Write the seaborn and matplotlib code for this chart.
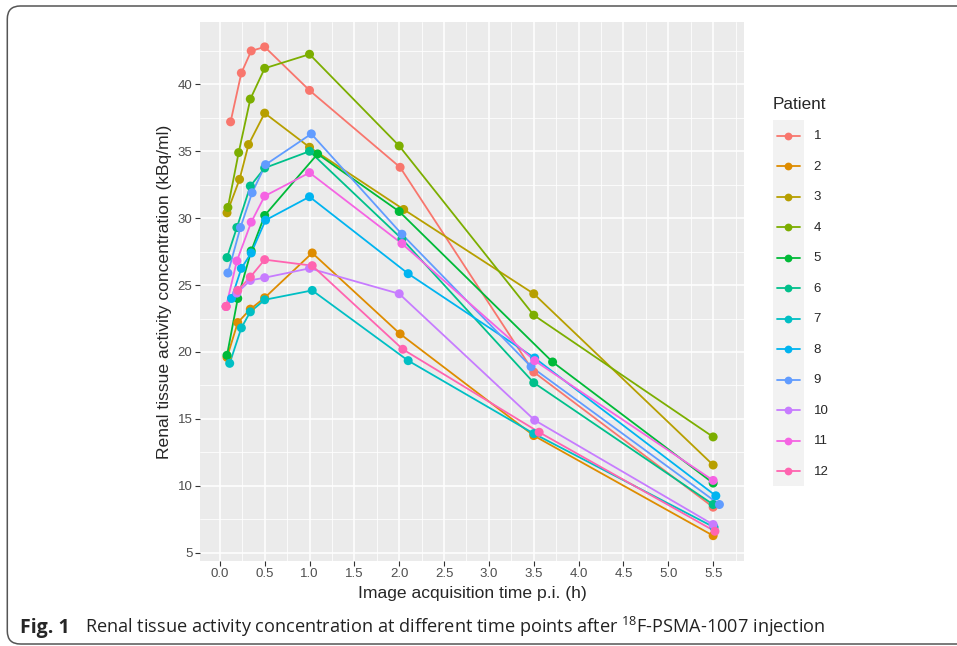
import numpy as np
import pandas as pd
import seaborn as sns
import matplotlib.pyplot as plt
from matplotlib.lines import Line2D
from matplotlib.patches import Rectangle, FancyBboxPatch
from matplotlib.legend_handler import HandlerBase

# data (time in h, concentration in kBq/ml)
patients = [str(i) for i in range(1, 13)]
palette = ["#F8766D", "#DE8C00", "#B79F00", "#7CAE00", "#00BA38", "#00C08B",
           "#00BFC4", "#00B4F0", "#619CFF", "#C77CFF", "#F564E3", "#FF64B0"]

time_1 = [0.12, 0.24, 0.35, 0.50, 1.00, 2.01, 3.50, 5.50]
conc_1 = [37.2, 40.85, 42.5, 42.8, 39.55, 33.8, 18.5, 8.4]
time_2 = [0.08, 0.20, 0.34, 0.50, 1.03, 2.01, 3.50, 5.50]
conc_2 = [19.6, 22.2, 23.2, 24.05, 27.4, 21.35, 13.75, 6.27]
time_3 = [0.08, 0.22, 0.32, 0.50, 1.00, 2.05, 3.50, 5.50]
conc_3 = [30.4, 32.9, 35.5, 37.85, 35.3, 30.65, 24.35, 11.55]
time_4 = [0.09, 0.21, 0.34, 0.50, 1.00, 2.00, 3.50, 5.50]
conc_4 = [30.8, 34.9, 38.9, 41.2, 42.25, 35.4, 22.75, 13.65]
time_5 = [0.08, 0.20, 0.35, 0.50, 1.09, 2.00, 3.71, 5.50]
conc_5 = [19.75, 24.0, 27.55, 30.2, 34.8, 30.5, 19.25, 10.2]
time_6 = [0.08, 0.19, 0.34, 0.50, 1.00, 2.03, 3.50, 5.50]
conc_6 = [27.05, 29.3, 32.4, 33.75, 35.0, 28.45, 17.7, 8.6]
time_7 = [0.11, 0.24, 0.34, 0.50, 1.03, 2.10, 3.50, 5.51]
conc_7 = [19.15, 21.8, 23.0, 23.9, 24.6, 19.35, 13.9, 6.9]
time_8 = [0.13, 0.24, 0.35, 0.51, 1.00, 2.10, 3.51, 5.53]
conc_8 = [24.0, 26.25, 27.4, 29.85, 31.6, 25.85, 19.55, 9.25]
time_9 = [0.09, 0.23, 0.36, 0.51, 1.02, 2.03, 3.47, 5.57]
conc_9 = [25.9, 29.3, 31.9, 34.0, 36.3, 28.8, 18.9, 8.6]
time_10 = [0.07, 0.19, 0.34, 0.50, 1.00, 2.00, 3.51, 5.50]
conc_10 = [23.4, 24.4, 25.35, 25.55, 26.25, 24.35, 14.9, 7.1]
time_11 = [0.07, 0.19, 0.35, 0.50, 1.00, 2.03, 3.51, 5.50]
conc_11 = [23.4, 26.8, 29.7, 31.65, 33.4, 28.1, 19.35, 10.4]
time_12 = [0.07, 0.20, 0.34, 0.50, 1.03, 2.04, 3.56, 5.52]
conc_12 = [23.4, 24.6, 25.6, 26.9, 26.45, 20.2, 14.0, 6.6]

x_ticks = [0.0, 0.5, 1.0, 1.5, 2.0, 2.5, 3.0, 3.5, 4.0, 4.5, 5.0, 5.5]
y_ticks = [5, 10, 15, 20, 25, 30, 35, 40]

times = [time_1, time_2, time_3, time_4, time_5, time_6,
         time_7, time_8, time_9, time_10, time_11, time_12]
concs = [conc_1, conc_2, conc_3, conc_4, conc_5, conc_6,
         conc_7, conc_8, conc_9, conc_10, conc_11, conc_12]
df = pd.concat([pd.DataFrame({"time": t, "conc": c, "Patient": p})
                for p, t, c in zip(patients, times, concs)], ignore_index=True)

# ggplot-ish grey theme
sns.set_style("darkgrid", {"axes.facecolor": "#EBEBEB", "grid.color": "white"})
plt.rcParams["font.family"] = ["Liberation Sans", "DejaVu Sans"]
plt.rcParams["mathtext.fontset"] = "custom"
plt.rcParams["mathtext.rm"] = "Open Sans"

fig = plt.figure(figsize=(9.57, 6.46), dpi=100)
W, H = 957, 646
ax = fig.add_axes([200 / W, 1 - 560.7 / H, 544 / W, 538.7 / H])

pal = dict(zip(patients, palette))
sns.lineplot(data=df, x="time", y="conc", hue="Patient", hue_order=patients,
             palette=pal, estimator=None, lw=1.3, legend=False, ax=ax)
sns.scatterplot(data=df, x="time", y="conc", hue="Patient", hue_order=patients,
                palette=pal, s=42, linewidth=0, legend=False, ax=ax, zorder=3)

ax.set_xlim(-0.221, 5.844)
ax.set_ylim(4.40, 44.66)
ax.set_xticks(x_ticks)
ax.set_xticklabels([f"{v:.1f}" for v in x_ticks])
ax.set_yticks(y_ticks)
ax.set_xticks(np.array(x_ticks) + 0.25, minor=True)
ax.set_yticks(np.array(y_ticks) + 2.5, minor=True)
ax.grid(which="major", color="white", lw=1.1)
ax.grid(which="minor", color="white", lw=0.55)
ax.set_axisbelow(True)
for s in ax.spines.values():
    s.set_visible(False)
ax.tick_params(which="major", direction="out", length=3.5, width=0.8,
               color="#333333", labelcolor="#4D4D4D", labelsize=9.5, pad=2,
               bottom=True, left=True)
ax.tick_params(which="minor", length=0)
ax.set_xlabel("Image acquisition time p.i. (h)", fontsize=12.6, labelpad=4)
ax.set_ylabel("Renal tissue activity concentration (kBq/ml)", fontsize=12.6, labelpad=4)


class KeyHandler(HandlerBase):
    # grey key box with line + point, like ggplot legend keys
    def create_artists(self, legend, orig_handle, xdescent, ydescent,
                       width, height, fontsize, trans):
        x0, y0 = -xdescent, -ydescent
        bg = Rectangle((x0, y0), width, height, facecolor="#F2F2F2",
                       edgecolor="none", transform=trans)
        ym = y0 + height / 2
        pad = 0.13 * width
        ln = Line2D([x0 + pad, x0 + width - pad], [ym, ym],
                    color=orig_handle.get_color(), lw=1.3, transform=trans)
        mk = Line2D([x0 + width / 2], [ym], marker="o", ms=5.6, mew=0,
                    color=orig_handle.get_color(), transform=trans)
        return [bg, ln, mk]


handles = [Line2D([], [], color=pal[p]) for p in patients]
leg = fig.legend(handles, patients, title="Patient", loc="upper left",
                 bbox_to_anchor=(772.7 / W, 1 - 97 / H), frameon=False,
                 fontsize=9.5, title_fontsize=12.3, labelspacing=0,
                 handlelength=2.35, handleheight=3.18, handletextpad=0.75,
                 borderpad=0, borderaxespad=0,
                 handler_map={Line2D: KeyHandler()})
leg._legend_box.align = "left"
leg._legend_box.sep = 6

# caption + rounded frame
fig.text(20 / W, 1 - 633 / H, "Fig. 1", fontsize=14, fontweight="bold",
         family=["Open Sans", "DejaVu Sans"], va="baseline")
fig.text(85 / W, 1 - 633 / H,
         r"Renal tissue activity concentration at different time points after "
         r"$\mathregular{^{18}}$F-PSMA-1007 injection",
         fontsize=13.1, family=["Open Sans", "DejaVu Sans"], va="baseline",
         color="#222222")
frame = FancyBboxPatch((0.073, 0.02), 10.0, 6.38, boxstyle="round,pad=0,rounding_size=0.13",
                       transform=fig.dpi_scale_trans, fill=False, ec="#555555", lw=1.1)
fig.patches.append(frame)

fig.savefig("out.png", dpi=100)
